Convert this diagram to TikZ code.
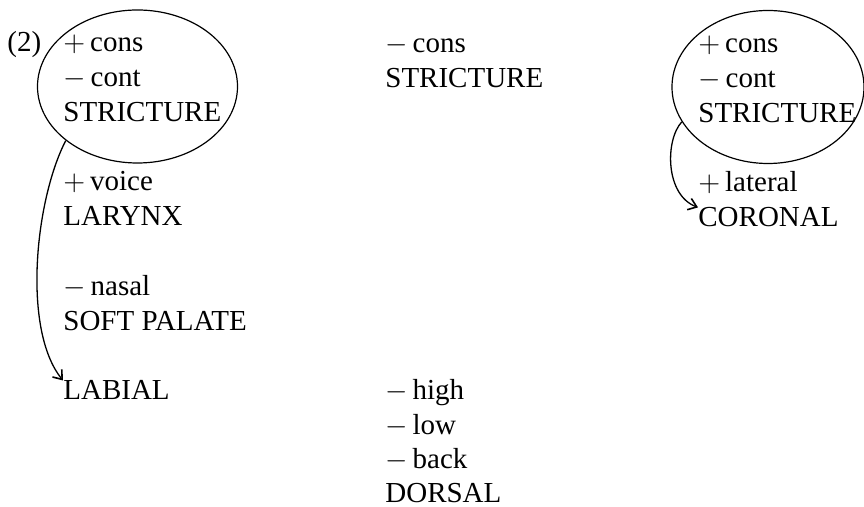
\documentclass[tikz,border=0pt]{standalone}
\usepackage{fontspec}
\setmainfont{Liberation Serif}
\usetikzlibrary{shapes, shapes.geometric, arrows, arrows.meta}

\begin{document}
\begin{tikzpicture}[x = 0.5pt, y = -0.5pt,
    feat/.style = {anchor = base west, inner sep = 0pt, font = \fontsize{14.5}{17.5}\selectfont},
    tract/.style = {ellipse, draw, inner sep = 0pt, line width = 0.6pt},
    link/.style = {-{Straight Barb[length = 4pt, width = 6pt, line width = 0.8pt]}, line width = 0.65pt}]
    \useasboundingbox (0,0) rectangle (864,507);

    \node (num) [feat] at (7,52) {(2)};

    % left column
    \node (lcons) [feat] at (63,52) {$+$\,cons};
    \node (lcont) [feat] at (63,87) {$-$\,cont};
    \node (lstr) [feat] at (63,122) {STRICTURE};
    \node (voice) [feat] at (63,191) {$+$\,voice};
    \node (larynx) [feat] at (63,226) {LARYNX};
    \node (nasal) [feat] at (63,296) {$-$\,nasal};
    \node (palate) [feat] at (63,331) {SOFT PALATE};
    \node (labial) [feat] at (63,400) {LABIAL};

    % middle column
    \node (mcons) [feat] at (385,53) {$-$\,cons};
    \node (mstr) [feat] at (385,88) {STRICTURE};
    \node (high) [feat] at (385,400) {$-$\,high};
    \node (low) [feat] at (385,435) {$-$\,low};
    \node (back) [feat] at (385,469) {$-$\,back};
    \node (dorsal) [feat] at (385,503) {DORSAL};

    % right column
    \node (rcons) [feat] at (698,53) {$+$\,cons};
    \node (rcont) [feat] at (698,88) {$-$\,cont};
    \node (rstr) [feat] at (698,123) {STRICTURE};
    \node (lateral) [feat] at (698,192) {$+$\,lateral};
    \node (coronal) [feat] at (698,227) {CORONAL};

    % circled groups
    \node (lcirc) [tract, minimum width = 100pt, minimum height = 76.5pt] at (137.5,86.5) {};
    \node (rcirc) [tract, minimum width = 96pt, minimum height = 76.5pt] at (768,87) {};

    \draw [link] (lcirc.217) .. controls (35,200) and (22,330) .. (labial.north west);
    \draw [link] (rcirc.202) .. controls (665,140) and (665,195) .. (coronal.north west);
\end{tikzpicture}
\end{document}
